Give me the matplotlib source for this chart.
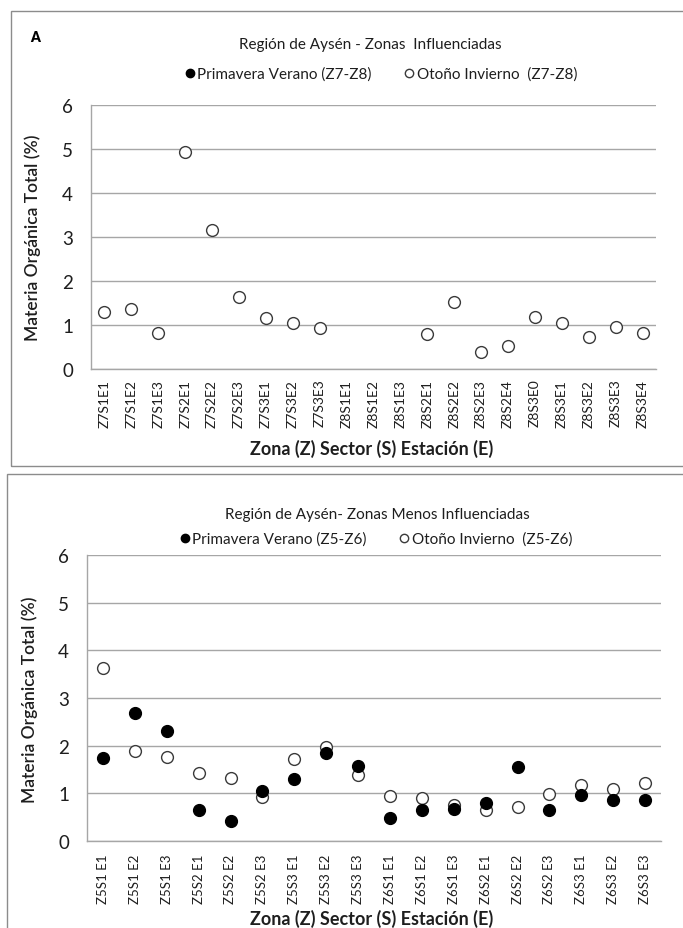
import numpy as np
import matplotlib
matplotlib.use("Agg")
import matplotlib.pyplot as plt
from matplotlib.patches import Rectangle
from matplotlib.lines import Line2D

plt.rcParams['font.family'] = ['Lato', 'DejaVu Sans']

# panel A - zonas influenciadas (Z7-Z8)
cat_a = ["Z7S1E1", "Z7S1E2", "Z7S1E3", "Z7S2E1", "Z7S2E2", "Z7S2E3", "Z7S3E1",
         "Z7S3E2", "Z7S3E3", "Z8S1E1", "Z8S1E2", "Z8S1E3", "Z8S2E1", "Z8S2E2",
         "Z8S2E3", "Z8S2E4", "Z8S3E0", "Z8S3E1", "Z8S3E2", "Z8S3E3", "Z8S3E4"]
pv_a = [np.nan] * 21
oi_a = [1.30, 1.37, 0.82, 4.94, 3.17, 1.63, 1.16, 1.05, 0.93, np.nan, np.nan,
        np.nan, 0.79, 1.52, 0.38, 0.52, 1.19, 1.05, 0.72, 0.96, 0.82]

# panel B - zonas menos influenciadas (Z5-Z6)
cat_b = ["Z5S1 E1", "Z5S1 E2", "Z5S1 E3", "Z5S2 E1", "Z5S2 E2", "Z5S2 E3",
         "Z5S3 E1", "Z5S3 E2", "Z5S3 E3", "Z6S1 E1", "Z6S1 E2", "Z6S1 E3",
         "Z6S2 E1", "Z6S2 E2", "Z6S2 E3", "Z6S3 E1", "Z6S3 E2", "Z6S3 E3"]
pv_b = [1.75, 2.69, 2.31, 0.66, 0.43, 1.05, 1.31, 1.85, 1.57, 0.48, 0.66,
        0.68, 0.79, 1.55, 0.65, 0.96, 0.87, 0.87]
oi_b = [3.62, 1.89, 1.77, 1.43, 1.33, 0.92, 1.71, 1.97, 1.39, 0.94, 0.90,
        0.75, 0.65, 0.71, 0.98, 1.18, 1.09, 1.22]

W, H = 683, 929
fig = plt.figure(figsize=(W / 100, H / 100), dpi=100)
fig.patch.set_facecolor("white")

grid_c = "#a6a6a6"
edge_c = "#8c8c8c"
txt_c = "#1e1e1e"


def fx(px):
    return px / W


def fy(py):
    return 1 - py / H


def panel(rect, cats, pv, oi, lbl_pad, lbl_size):
    ax = fig.add_axes(rect)
    x = np.arange(len(cats))
    ax.plot(x, oi, linestyle="none", marker="o", ms=8.5, mfc="white",
            mec="#3a3a3a", mew=1.0, zorder=3)
    ax.plot(x, pv, linestyle="none", marker="o", ms=8.5, mfc="black",
            mec="black", mew=1.0, zorder=4)
    ax.set_xlim(-0.5, len(cats) - 0.5)
    ax.set_ylim(0, 6)
    ax.set_yticks(range(7))
    ax.set_xticks(x)
    ax.set_xticklabels(cats, rotation=90, fontsize=lbl_size, color=txt_c)
    ax.tick_params(axis="y", length=0, pad=13, labelsize=13.5,
                   labelcolor=txt_c)
    ax.tick_params(axis="x", length=0, pad=lbl_pad)
    ax.yaxis.grid(True, color=grid_c, lw=1)
    ax.set_axisbelow(True)
    for s in ["top", "right"]:
        ax.spines[s].set_visible(False)
    for s in ["left", "bottom"]:
        ax.spines[s].set_color(grid_c)
        ax.spines[s].set_linewidth(1)
    return ax


def legend(y, x, tag):
    h = [Line2D([], [], ls="none", marker="o", ms=6, mfc="black", mec="black"),
         Line2D([], [], ls="none", marker="o", ms=6, mfc="white", mec="#3a3a3a")]
    fig.legend(h, ["Primavera Verano (%s)" % tag, "Otoño Invierno  (%s)" % tag],
               loc="center", bbox_to_anchor=(fx(x), fy(y)), ncol=2,
               frameon=False, fontsize=11, handletextpad=0.05,
               columnspacing=2.0, handlelength=0.9, labelcolor=txt_c)


# outer boxes
fig.add_artist(Rectangle((fx(11), fy(467)), 2, (467 - 12) / H,
                         transform=fig.transFigure, fill=False,
                         ec=edge_c, lw=1))
fig.add_artist(Rectangle((fx(7), -1), 2, 1 + fy(475),
                         transform=fig.transFigure, fill=False,
                         ec=edge_c, lw=1))

# top panel
panel([fx(91), fy(370), fx(656) - fx(91), fy(106) - fy(370)],
      cat_a, pv_a, oi_a, 7, 10)
fig.text(fx(35), fy(37), "A", fontsize=10, fontweight="heavy",
         ha="center", va="center", color="black")
fig.text(fx(370), fy(45), "Región de Aysén - Zonas  Influenciadas",
         fontsize=11, ha="center", va="center", color=txt_c)
legend(75, 380, "Z7-Z8")
fig.text(fx(33), fy(238), "Materia Orgánica Total (%)", rotation=90,
         fontsize=12.5, fontweight="semibold", ha="center", va="center",
         color=txt_c)
fig.text(fx(372), fy(449), "Zona (Z) Sector (S) Estación (E)",
         fontsize=13, fontweight="bold", ha="center", va="center",
         color=txt_c)

# bottom panel
panel([fx(87), fy(842), fx(661) - fx(87), fy(556) - fy(842)],
      cat_b, pv_b, oi_b, 9, 9.5)
fig.text(fx(377), fy(515), "Región de Aysén- Zonas Menos Influenciadas",
         fontsize=11, ha="center", va="center", color=txt_c)
legend(540, 375, "Z5-Z6")
fig.text(fx(30), fy(700), "Materia Orgánica Total (%)", rotation=90,
         fontsize=12.5, fontweight="semibold", ha="center", va="center",
         color=txt_c)
fig.text(fx(372), fy(919), "Zona (Z) Sector (S) Estación (E)",
         fontsize=13, fontweight="bold", ha="center", va="center",
         color=txt_c)

fig.savefig("out.png", dpi=100)
